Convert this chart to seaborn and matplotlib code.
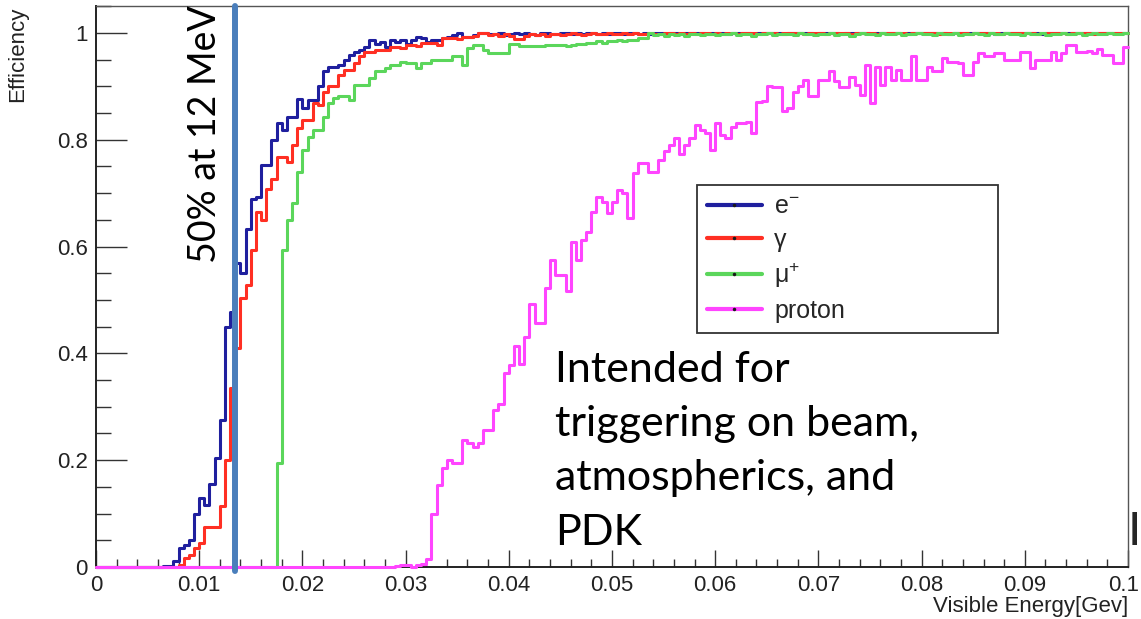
import numpy as np
import pandas as pd
import matplotlib
matplotlib.use('Agg')
import matplotlib.pyplot as plt
from matplotlib.lines import Line2D
from matplotlib.ticker import MultipleLocator
from matplotlib.transforms import ScaledTranslation
import seaborn as sns

# 200 bins of 0.5 MeV between 0 and 0.1 GeV
bin_edges = np.linspace(0.0, 0.1, 201)

particles = ['e-', 'gamma', 'mu+', 'proton']
legend_labels = ['e$^{-}$', 'γ', 'μ$^{+}$', 'proton']
colors = {'e-': '#1f1f9e', 'gamma': '#ff2f23', 'mu+': '#5bd65b', 'proton': '#ff45ff'}

x_ticks = [0, 0.01, 0.02, 0.03, 0.04, 0.05, 0.06, 0.07, 0.08, 0.09, 0.1]
x_ticklabels = ['0', '0.01', '0.02', '0.03', '0.04', '0.05', '0.06', '0.07', '0.08', '0.09', '0.1']
y_ticks = [0, 0.2, 0.4, 0.6, 0.8, 1.0]
y_ticklabels = ['0', '0.2', '0.4', '0.6', '0.8', '1']

threshold = 0.0135

eff_eminus = [
    0, 0, 0, 0, 0, 0, 0, 0, 0, 0, 0, 0, 0, .002, .002, .012, .035, .041, .05, .10,
    .129, .116, .155, .204, .275, .45, .478, .57, .55, .633, .689, .693, .753, .753, .80, .831, .818, .843, .843, .877,
    .86, .875, .875, .90, .928, .937, .937, .94, .95, .959, .965, .968, .974, .987, .98, .983, .974, .987, .983, .987,
    .98, .987, .993, .99, .983, .987, .987, .99, .993, .996, 1.0, .993, .993, .996, 1.0, 1.0, .997, .998, 1.0, .996,
    .998, .999, .997, 1.0, .998, .996, .999, 1.0, .998, .997, .999, 1.0, .998, .999, .997, 1.0, .999, .998, 1.0, .997,
    .999, 1.0, .998, .999, 1.0, .997, .999, .998, 1.0, .999, .998, 1.0, .999, .997, 1.0, .999, 1.0, .999, .998, 1.0,
    .999, 1.0, .998, .999, 1.0, .999, 1.0, .998, .999, 1.0, .999, 1.0, .999, .998, 1.0, .999, 1.0, .999, 1.0, .998,
    1.0, .999, 1.0, .999, .998, 1.0, .999, 1.0, 1.0, .999, .998, 1.0, .999, 1.0, .999, 1.0, .998, 1.0, .999, 1.0,
    .999, 1.0, 1.0, .999, 1.0, .998, 1.0, .999, 1.0, .999, 1.0, 1.0, .999, 1.0, .998, 1.0, .999, 1.0, 1.0, .999,
    1.0, .999, 1.0, .998, 1.0, 1.0, .999, 1.0, .999, 1.0, 1.0, .999, 1.0, .999, 1.0, 1.0, .999, 1.0, .999, 1.0,
]

eff_gamma = [
    0, 0, 0, 0, 0, 0, 0, 0, 0, 0, 0, 0, 0, 0, 0, 0, .004, .017, .022, .035,
    .045, .075, .075, .075, .114, .20, .335, .41, .503, .528, .594, .664, .65, .707, .726, .768, .768, .759, .79, .822,
    .837, .837, .868, .865, .89, .90, .90, .921, .931, .931, .943, .956, .965, .965, .968, .968, .968, .974, .974, .972,
    .978, .978, .975, .981, .981, .981, .978, .99, .99, .99, .988, .993, .993, .995, 1.0, 1.0, .996, .997, .995, .997,
    .994, .988, .988, .995, .997, .996, .998, .995, .997, .998, .996, .998, .999, .997, .996, .998, .999, .997, .998, .999,
    .998, .997, .999, .998, 1.0, .997, .998, .999, .998, .997, .999, 1.0, .998, .999, .997, .999, .998, 1.0, .999, .998,
    .999, .998, 1.0, .999, .998, .999, 1.0, .999, .998, .999, 1.0, .999, .998, 1.0, .999, .999, 1.0, .998, .999, 1.0,
    .999, .998, 1.0, .999, 1.0, .999, .998, 1.0, .999, 1.0, .999, .998, 1.0, .999, 1.0, .999, 1.0, .998, .999, 1.0,
    .999, 1.0, .999, .998, 1.0, .999, 1.0, .999, 1.0, .998, .999, 1.0, .999, 1.0, .999, .998, 1.0, .999, 1.0, .999,
    1.0, .999, .998, 1.0, .999, 1.0, .999, 1.0, .998, 1.0, .999, 1.0, .999, .998, 1.0, .999, 1.0, .999, 1.0, .999,
]

eff_muplus = [
    0, 0, 0, 0, 0, 0, 0, 0, 0, 0, 0, 0, 0, 0, 0, 0, 0, 0, 0, 0,
    0, 0, 0, 0, 0, 0, 0, 0, 0, 0, 0, 0, 0, 0, 0, .195, .594, .65, .682, .74,
    .78, .806, .818, .818, .843, .868, .878, .881, .881, .875, .903, .903, .903, .915, .928, .928, .934, .94, .94, .946,
    .944, .944, .934, .944, .944, .949, .949, .949, .949, .956, .956, .94, .971, .978, .978, .968, .962, .962, .962, .962,
    .98, .98, .975, .975, .975, .975, .975, .978, .978, .978, .978, .975, .978, .98, .98, .982, .982, .985, .982, .985,
    .985, .987, .985, .987, .987, .99, .99, 1.0, .996, .997, .995, .998, .996, .997, .995, .998, .997, .996, .998, .997,
    .996, .998, .997, .999, .996, .998, .997, .995, .998, .997, .999, .996, .998, .997, .998, .996, .999, .997, .998, .996,
    .998, .997, .999, .996, .998, .997, .995, .998, .999, .997, .998, .996, .999, .998, .997, .999, .996, .998, .997, .999,
    .997, .998, .996, .999, .997, .998, .999, .996, .998, .997, .999, .998, .996, .999, .997, .998, .999, .997, .998, .996,
    .999, .997, .998, .999, .996, .998, .997, .999, .998, .997, .999, .996, .998, .999, .997, .998, .999, .997, .998, .999,
]

eff_proton = [
    0, 0, 0, 0, 0, 0, 0, 0, 0, 0, 0, 0, 0, 0, 0, 0, 0, 0, 0, 0,
    0, 0, 0, 0, 0, 0, 0, 0, 0, 0, 0, 0, 0, 0, 0, 0, 0, 0, 0, 0,
    0, 0, 0, 0, 0, 0, 0, 0, 0, 0, 0, 0, 0, 0, 0, 0, 0, 0, .002, .004,
    .004, 0, .004, .005, .015, .10, .154, .185, .20, .194, .194, .238, .232, .224, .232, .257, .257, .294, .305, .363,
    .378, .413, .381, .43, .493, .456, .456, .522, .575, .547, .547, .516, .609, .575, .612, .628, .665, .692, .684, .662,
    .684, .706, .70, .653, .738, .757, .757, .74, .74, .762, .778, .79, .803, .774, .79, .803, .828, .818, .812, .781,
    .831, .809, .803, .824, .831, .831, .834, .812, .871, .873, .90, .898, .898, .853, .859, .89, .90, .912, .881, .881,
    .912, .912, .928, .91, .898, .898, .918, .903, .884, .94, .868, .937, .903, .937, .912, .931, .912, .912, .956, .912,
    .912, .937, .928, .928, .953, .946, .946, .944, .921, .921, .946, .962, .956, .956, .962, .962, .949, .949, .949, .965,
    .965, .934, .949, .949, .949, .965, .95, .962, .978, .978, .965, .965, .966, .962, .97, .959, .959, .944, .944, .973,
]

efficiencies = {'e-': eff_eminus, 'gamma': eff_gamma, 'mu+': eff_muplus, 'proton': eff_proton}

centers = 0.5 * (bin_edges[:-1] + bin_edges[1:])
frames = []
for p in particles:
    frames.append(pd.DataFrame({'energy': centers, 'eff': efficiencies[p], 'particle': p}))
df = pd.concat(frames, ignore_index=True)

sns.set_theme(style='ticks')
plt.rcParams['font.family'] = ['Liberation Sans', 'DejaVu Sans']
plt.rcParams['mathtext.fontset'] = 'custom'
plt.rcParams['mathtext.rm'] = 'Liberation Sans'

fig = plt.figure(figsize=(11.41, 6.19), dpi=100)
ax = fig.add_axes([0.0841, 0.084, 0.9045, 0.906])

# drawn in ROOT order so the proton line ends up on top
for p in particles:
    sns.histplot(data=df[df['particle'] == p], x='energy', weights='eff', bins=bin_edges.tolist(),
                 element='step', fill=False, color=colors[p], linewidth=2.2, ax=ax,
                 zorder=3, clip_on=False)

ax.set_xlim(0, 0.1)
ax.set_ylim(0, 1.05)
ax.set_xticks(x_ticks, x_ticklabels)
ax.set_yticks(y_ticks, y_ticklabels)
ax.xaxis.set_minor_locator(MultipleLocator(0.002))
ax.yaxis.set_minor_locator(MultipleLocator(0.05))
ax.tick_params(axis='x', which='major', direction='in', length=12, width=1, color='#333333',
               labelsize=16, labelcolor='#222222', pad=6)
ax.tick_params(axis='x', which='minor', direction='in', length=6, width=1, color='#333333')
ax.tick_params(axis='y', which='major', direction='in', length=22, width=1, color='#333333',
               labelsize=16, labelcolor='#222222', pad=6)
ax.tick_params(axis='y', which='minor', direction='in', length=11, width=1, color='#333333')
# keep the last x label inside the canvas
last = ax.get_xticklabels()[-1]
last.set_transform(last.get_transform() + ScaledTranslation(-3 / 72, 0, fig.dpi_scale_trans))
for side in ['left', 'bottom']:
    ax.spines[side].set_linewidth(1.4)
    ax.spines[side].set_color('#222222')
for side in ['right', 'top']:
    ax.spines[side].set_linewidth(1.0)
    ax.spines[side].set_color('#555555')

ax.set_xlabel('Visible Energy[Gev]', loc='right', fontsize=16, color='#222222', labelpad=0)
ax.set_ylabel('Efficiency', loc='top', fontsize=16, color='#222222')
ax.yaxis.set_label_coords(-0.066, 1.0)

# 50% threshold marker
ax.axvline(threshold, ymin=-0.008, ymax=1.0, color='#4a7ebb', lw=4.3, clip_on=False, zorder=5)
ax.text(0.0106, 0.57, '50% at 12 MeV', rotation=90, ha='center', va='bottom',
        fontsize=27, family='Lato', color='black')
ax.text(0.0445, 0.404, 'Intended for\ntriggering on beam,\natmospherics, and\nPDK', ha='left', va='top',
        fontsize=31, family='Lato', color='black', linespacing=1.52)
fig.text(1128 / 1141, 1 - 545 / 619, 'I', fontsize=34, family='Lato', ha='left', va='baseline')

handles = [Line2D([0], [0], color=colors[p], lw=3, marker='.', markersize=3,
                  markerfacecolor='k', markeredgecolor='k') for p in particles]
leg = ax.legend(handles, legend_labels, loc='upper left', bbox_to_anchor=(0.582, 0.681, 0.292, 0),
                mode='expand', fontsize=18, frameon=True, fancybox=False, edgecolor='#333333',
                framealpha=1, borderpad=0.4, labelspacing=0.35, handlelength=2.2,
                handletextpad=0.5, borderaxespad=0)
leg.get_frame().set_linewidth(1.3)
leg.set_zorder(6)

fig.savefig('out.png', dpi=100)
